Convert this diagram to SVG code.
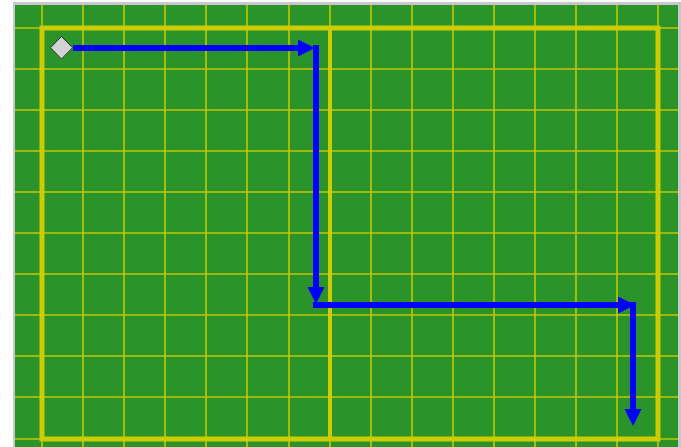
<svg xmlns="http://www.w3.org/2000/svg" width="681" height="447" viewBox="0 0 681 447">
<style>
.grid{stroke:#c6c600;stroke-width:1.6;fill:none}
.frame{stroke:#cccc00;stroke-width:5;fill:none}
.path{stroke:#0000ff;stroke-width:6;fill:none;marker-end:url(#ah)}
</style>
<defs>
<marker id="ah" markerUnits="userSpaceOnUse" markerWidth="18" markerHeight="18" viewBox="0 0 18 18" refX="8" refY="9" orient="auto">
<path d="M0,0.5 L17,9 L0,17.5 Z" fill="#0000ff"/>
</marker>
</defs>
<rect x="0" y="0" width="681" height="447" fill="#ffffff"/>
<rect x="13" y="2" width="668" height="445" fill="#c8c8cc"/>
<rect x="15" y="5" width="663" height="442" fill="#2a932a"/>
<g id="grid">
<path class="grid" d="M42,5V447M83,5V447M124,5V447M165,5V447M206,5V447M247,5V447M289,5V447M330,5V447M371,5V447M412,5V447M453,5V447M494,5V447M535,5V447M576,5V447M617,5V447M658,5V447"/>
<path class="grid" d="M15,28H678M15,69H678M15,110H678M15,151H678M15,192H678M15,233H678M15,274H678M15,315H678M15,356H678M15,397H678M15,439H678"/>
</g>
<g id="frame">
<rect class="frame" x="42" y="28" width="616" height="411"/>
<line x1="330" y1="28" x2="330" y2="439" stroke="#cccc00" stroke-width="4"/>
</g>
<g id="start">
<polygon points="61.5,36.5 72.5,47.7 61.5,59 50.5,47.7" fill="#d3d3d3" stroke="#333333" stroke-width="1"/>
</g>
<g id="connectors">
<line class="path" x1="73" y1="48" x2="306" y2="48"/>
<line class="path" x1="316" y1="45" x2="316" y2="295"/>
<line class="path" x1="313" y1="305" x2="626" y2="305"/>
<line class="path" x1="633" y1="302" x2="633" y2="417"/>
</g>
</svg>
